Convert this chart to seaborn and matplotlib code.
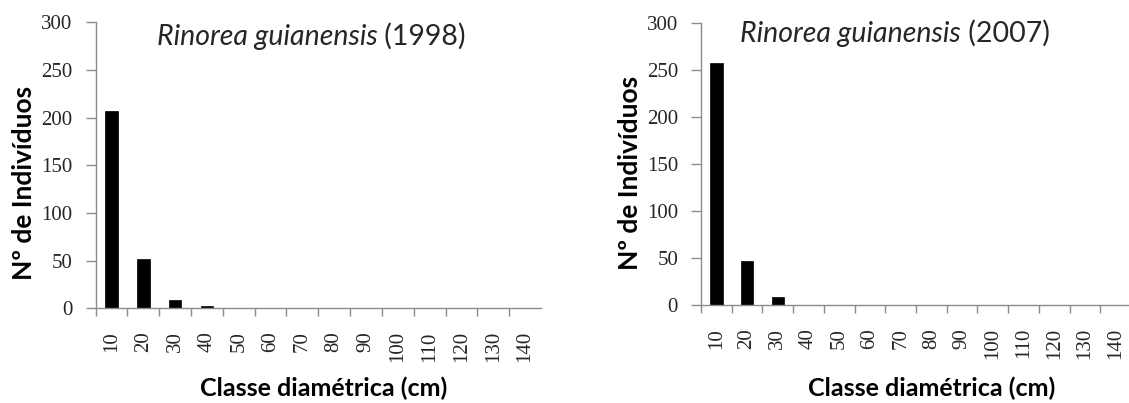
import numpy as np
import pandas as pd
import matplotlib
matplotlib.use("Agg")
import matplotlib.pyplot as plt
import seaborn as sns

# Diameter classes (cm) and number of individuals per class
classes = ["10", "20", "30", "40", "50", "60", "70", "80", "90",
           "100", "110", "120", "130", "140"]
counts_1998 = [207, 52, 9, 2, 0, 0, 0, 0, 0, 0, 0, 0, 0, 0]
counts_2007 = [257, 47, 9, 0, 0, 0, 0, 0, 0, 0, 0, 0, 0, 0]
years = ["1998", "2007"]
species = "Rinorea guianensis"
y_ticks = [0, 50, 100, 150, 200, 250, 300]
xlabel = "Classe diamétrica (cm)"
ylabel = "Nº de Indivíduos"

sns.set_theme(style="white")
plt.rcParams["font.family"] = ["Lato", "DejaVu Sans"]

AXIS_GREY = "#8c8c8c"
W, H = 1129, 403
fig = plt.figure(figsize=(W / 100, H / 100), dpi=100)

# axes boxes in pixels: (left, top, right, bottom)
boxes = [(95.5, 22.3, 541, 308.3), (701, 23, 1131, 305)]
title_pos = [(0.137, 0.92), (0.091, 0.934)]
ylabel_pos = [(-0.161, 0.44), (-0.166, 0.47)]
xlabel_pos = [(0.513, -0.28), (0.537, -0.295)]

for i, (vals, year) in enumerate(zip([counts_1998, counts_2007], years)):
    l, t, r, b = boxes[i]
    ax = fig.add_axes([l / W, 1 - b / H, (r - l) / W, (b - t) / H])
    df = pd.DataFrame({"classe": classes, "n": vals})
    sns.barplot(data=df, x="classe", y="n", color="black", width=0.4,
                saturation=1, ax=ax, order=classes)
    for p in ax.patches:
        p.set_edgecolor("black")
        p.set_linewidth(0.5)

    ax.set_xlim(-0.5, len(classes) - 0.5)
    ax.set_ylim(0, 300)
    ax.set_yticks(y_ticks)
    ax.set_yticklabels([str(v) for v in y_ticks],
                       family="Liberation Serif", fontsize=15)

    # tick marks sit between classes, labels sit under each bar
    ax.set_xticks(np.arange(-0.5, len(classes) - 1, 1))
    ax.set_xticklabels([])
    ax.set_xticks(np.arange(len(classes)), minor=True)
    ax.set_xticklabels(classes, minor=True, rotation=90,
                       family="Liberation Serif", fontsize=15)
    ax.tick_params(axis="x", which="major", length=6, width=1,
                   color=AXIS_GREY, direction="out", bottom=True)
    ax.tick_params(axis="x", which="minor", length=0, pad=16.5, bottom=True)
    ax.tick_params(axis="y", length=7, width=1, color=AXIS_GREY,
                   direction="out", pad=9.5, left=True)

    for side in ["top", "right"]:
        ax.spines[side].set_visible(False)
    for side in ["left", "bottom"]:
        ax.spines[side].set_color(AXIS_GREY)
        ax.spines[side].set_linewidth(1)
    ax.grid(False)

    ax.set_xlabel(xlabel, fontsize=18, fontweight="bold", color="black")
    ax.set_ylabel(ylabel, fontsize=19, fontweight="bold", color="black")
    ax.xaxis.set_label_coords(*xlabel_pos[i])
    ax.xaxis.label.set_va("center")
    ax.yaxis.set_label_coords(*ylabel_pos[i])
    ax.yaxis.label.set_va("center")

    tx, ty = title_pos[i]
    t1 = ax.text(tx, ty, species, transform=ax.transAxes,
                 fontsize=20.5, style="italic", ha="left", va="baseline")
    ax.annotate(f" ({year})", xy=(1, 0), xycoords=t1, fontsize=20.5,
                ha="left", va="bottom")

fig.savefig("out.png", dpi=100)
